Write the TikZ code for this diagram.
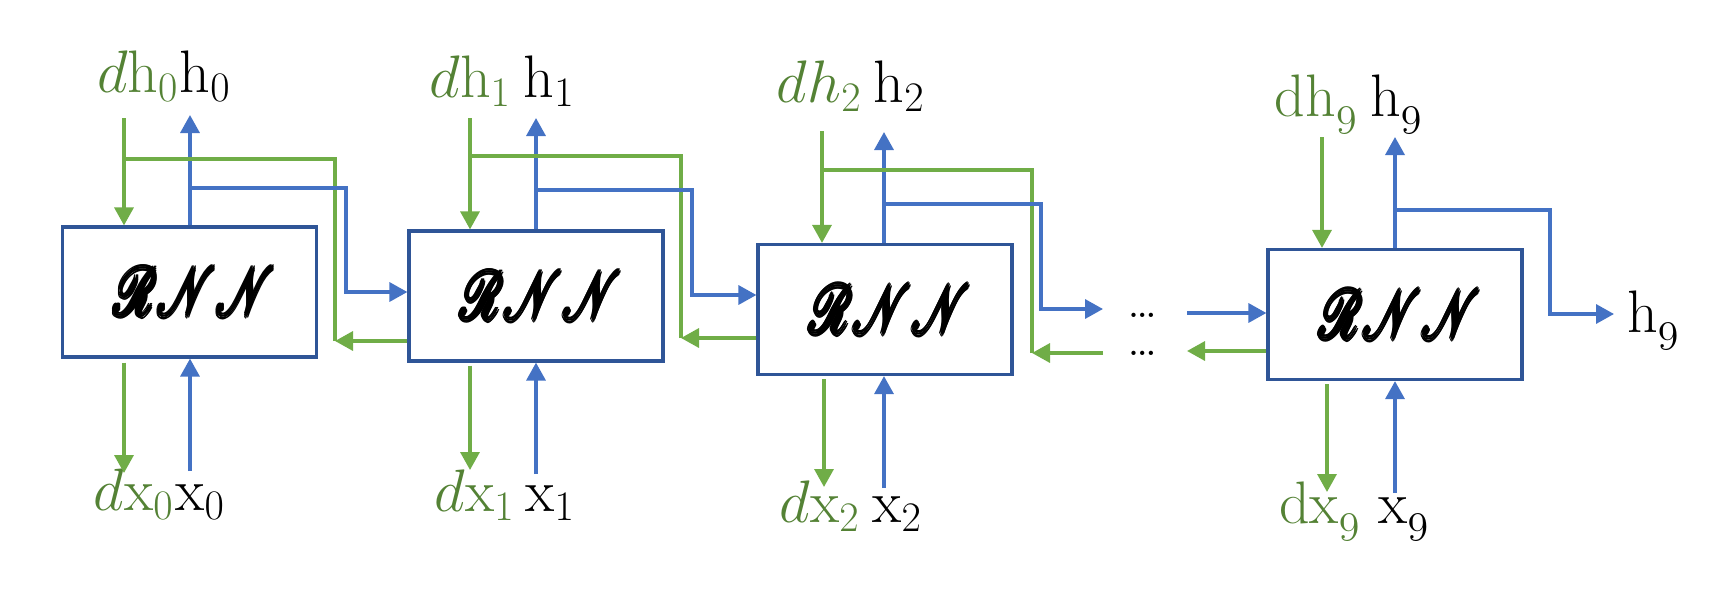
\RequirePackage{fix-cm}
\documentclass[tikz,border=0pt]{standalone}
\usepackage{mathrsfs}
\usepackage{graphicx}
\usetikzlibrary{arrows.meta}
\definecolor{gline}{HTML}{70AD47}
\definecolor{gtext}{HTML}{548235}
\definecolor{bline}{HTML}{4472C4}
\definecolor{boxc}{HTML}{2F5597}
\newcommand\fatbox[1]{\setbox0=\hbox{#1}%
\rlap{\kern.4pt\copy0}\rlap{\kern-.4pt\copy0}\rlap{\raise.4pt\copy0}\rlap{\lower.4pt\copy0}%
\rlap{\kern.28pt\raise.28pt\copy0}\rlap{\kern-.28pt\raise.28pt\copy0}\rlap{\kern.28pt\lower.28pt\copy0}\rlap{\kern-.28pt\lower.28pt\copy0}\box0}
\newcommand\rnn{\hspace*{10pt}\scalebox{4.7}[6.8]{\fatbox{$\mathscr{RNN}$}}}
\begin{document}
\begin{tikzpicture}[x=1pt,y=-1pt,
  >={Triangle[width=19pt,length=18pt]},
  rnnbox/.style={draw=boxc,line width=3.2pt,minimum width=254pt,minimum height=130pt,inner sep=0pt},
  gl/.style={draw=gline,line width=3.4pt},
  bl/.style={draw=bline,line width=3.4pt},
  gar/.style={gl,->},
  bar/.style={bl,->},
  lab/.style={font=\fontsize{60}{64}\selectfont,anchor=base,inner sep=0pt},
  glab/.style={lab,text=gtext},
  blab/.style={lab,text=black},
  dotlab/.style={font=\fontsize{52}{38}\selectfont,inner sep=0pt,align=center}]
\useasboundingbox (0,0) rectangle (1710,595);
% boxes
\node[rnnbox] (b0) at (189.5,292) {\rnn};
\node[rnnbox] (b1) at (536,296) {\rnn};
\node[rnnbox] (b2) at (885,309.5) {\rnn};
\node[rnnbox] (b3) at (1395,314.5) {\rnn};
% top labels
\node[glab] (dh0) at (137.5,92) {$d\mathrm{h}_0$};
\node[blab] (h0) at (205,92) {$\mathrm{h}_0$};
\node[glab] (dh1) at (470,97) {$d\mathrm{h}_1$};
\node[blab] (h1) at (549,97) {$\mathrm{h}_1$};
\node[glab] (dh2) at (819,102) {$dh_2$};
\node[blab] (h2) at (899,102) {$\mathrm{h}_2$};
\node[glab] (dh9) at (1316,116) {$\mathrm{dh}_{\mathnormal{9}}$};
\node[blab] (h9) at (1396,116) {$\mathrm{h}_{\mathnormal{9}}$};
\node[blab] (h9r) at (1653,332) {$\mathrm{h}_{\mathnormal{9}}$};
% bottom labels
\node[glab] (dx0) at (133.5,510) {$d\mathrm{x}_0$};
\node[blab] (x0) at (200,510) {$\mathrm{x}_0$};
\node[glab] (dx1) at (474.5,511) {$d\mathrm{x}_1$};
\node[blab] (x1) at (550,511) {$\mathrm{x}_1$};
\node[glab] (dx2) at (819.5,522) {$d\mathrm{x}_2$};
\node[blab] (x2) at (897,522) {$\mathrm{x}_2$};
\node[glab] (dx9) at (1319.5,523) {$\mathrm{dx}_{\mathnormal{9}}$};
\node[blab] (x9) at (1403.5,523) {$\mathrm{x}_{\mathnormal{9}}$};
% dots (two rows)
\node[dotlab] (dots) at (1143,334) {\ldots\\\ldots};
% coordinates: vertical top ends
\coordinate (g0t) at (124,118);  \coordinate (h0t) at (190,115);
\coordinate (g1t) at (470,118);  \coordinate (h1t) at (536,118);
\coordinate (g2t) at (822,131);  \coordinate (h2t) at (884,132);
\coordinate (g3t) at (1322,137); \coordinate (h3t) at (1395,137);
% bottom ends
\coordinate (g0b) at (124,473);  \coordinate (x0b) at (190,471);
\coordinate (g1b) at (470,470);  \coordinate (x1b) at (536,474);
\coordinate (g2b) at (824,487);  \coordinate (x2b) at (884,488);
\coordinate (g3b) at (1327,492); \coordinate (x3b) at (1395,493);
% junctions
\coordinate (jg0) at (124,159);  \coordinate (jb0) at (190,188);
\coordinate (jg1) at (470,156);  \coordinate (jb1) at (536,190);
\coordinate (jg2) at (822,170);  \coordinate (jb2) at (884,204);
\coordinate (jb3) at (1395,210);
% bends
\coordinate (f0) at (335,341);  \coordinate (c0) at (346,292);
\coordinate (f1) at (681,338);  \coordinate (c1) at (692,295);
\coordinate (f2) at (1032,353); \coordinate (c2) at (1041,309);
\coordinate (c3) at (1550,314);
% free ends near dots
\coordinate (e2b) at (1103,309); \coordinate (e2g) at (1103,353);
\coordinate (s3b) at (1187,313); \coordinate (e3g) at (1187,351);
\coordinate (e3h) at (1614,314);
% ---- green top inputs
\draw[gar] (g0t) -- (g0t |- b0.north);
\draw[gar] (g1t) -- (g1t |- b1.north);
\draw[gar] (g2t) -- (g2t |- b2.north);
\draw[gar] (g3t) -- (g3t |- b3.north);
% ---- blue top outputs
\draw[bar] (h0t |- b0.north) -- (h0t);
\draw[bar] (h1t |- b1.north) -- (h1t);
\draw[bar] (h2t |- b2.north) -- (h2t);
\draw[bar] (h3t |- b3.north) -- (h3t);
% ---- green bottom outputs
\draw[gar] ([yshift=-4pt]g0b |- b0.south) -- (g0b);
\draw[gar] ([yshift=-3pt]g1b |- b1.south) -- (g1b);
\draw[gar] ([yshift=-3pt]g2b |- b2.south) -- (g2b);
\draw[gar] ([yshift=-3pt]g3b |- b3.south) -- (g3b);
% ---- blue bottom inputs
\draw[bar] (x0b) -- (x0b |- b0.south);
\draw[bar] (x1b) -- (x1b |- b1.south);
\draw[bar] (x2b) -- (x2b |- b2.south);
\draw[bar] (x3b) -- (x3b |- b3.south);
% ---- green backward links
\draw[gl] (f0) |- (jg0);
\draw[gar] (b1.west |- f0) -- (f0);
\draw[gl] (f1) |- (jg1);
\draw[gar] (b2.west |- f1) -- (f1);
\draw[gl] (f2) |- (jg2);
\draw[gar] (e2g) -- (f2);
\draw[gar] (b3.west |- e3g) -- (e3g);
% ---- blue forward links
\draw[bar] (jb0) -| (c0) -- (b1.west |- c0);
\draw[bar] (jb1) -| (c1) -- (b2.west |- c1);
\draw[bar] (jb2) -| (c2) -- (e2b);
\draw[bar] (s3b) -- (b3.west |- s3b);
\draw[bar] (jb3) -| (c3) -- (e3h);
\end{tikzpicture}
\end{document}
